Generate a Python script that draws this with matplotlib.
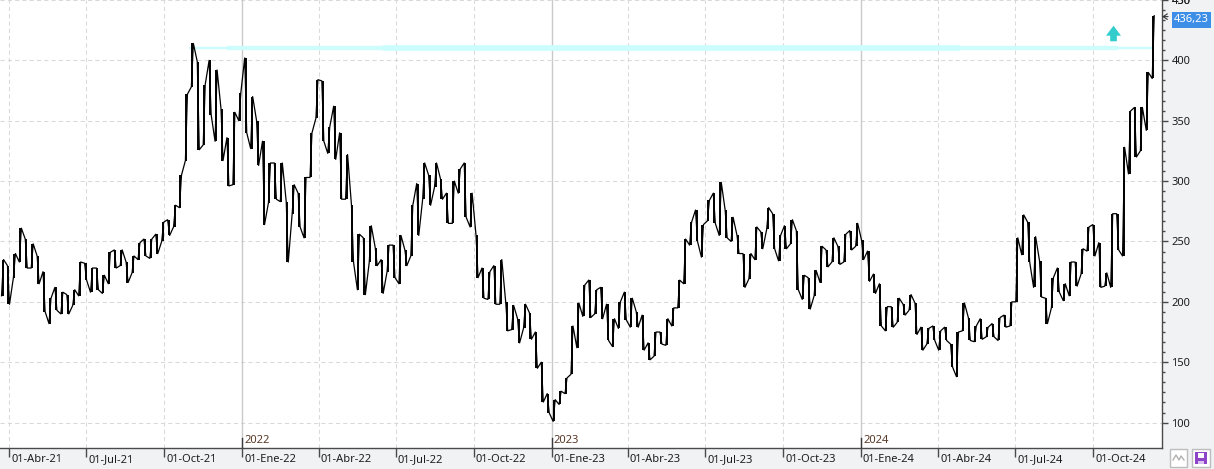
import numpy as np
import pandas as pd
import matplotlib
matplotlib.use("Agg")
import matplotlib.pyplot as plt
import matplotlib.dates as mdates
from matplotlib.path import Path
from matplotlib.patches import Rectangle
from matplotlib.lines import Line2D

plt.rcParams['font.family'] = ['Noto Sans', 'DejaVu Sans']

# weekly ranges (week starting monday)
week_start = pd.date_range('2021-03-22', '2024-12-09', freq='W-MON')

low_2021 = [205, 198, 220, 233, 228, 228, 215, 192, 182, 193, 190, 190, 197, 205,
            218, 208, 210, 207, 215, 228, 230, 216, 224, 235, 238, 236, 240, 250,
            255, 262, 278, 317, 378, 326, 330, 355, 333, 317, 296, 297, 350]
high_2021 = [235, 230, 240, 261, 252, 248, 238, 225, 203, 212, 208, 206, 210, 233,
             232, 228, 228, 222, 241, 243, 243, 233, 238, 249, 252, 252, 256, 266,
             268, 280, 305, 372, 414, 399, 380, 400, 392, 360, 336, 357, 373]
low_2022 = [340, 327, 313, 264, 282, 285, 283, 233, 273, 262, 253, 303, 352, 333,
            323, 318, 285, 285, 233, 210, 206, 233, 230, 207, 225, 220, 215, 230,
            238, 255, 285, 280, 295, 285, 265, 265, 290, 270, 262, 220, 203, 202,
            198, 198, 176, 177, 166, 178, 169, 145, 117, 108]
high_2022 = [402, 370, 350, 333, 315, 315, 315, 283, 297, 290, 303, 340, 384, 383,
             345, 362, 340, 322, 280, 256, 253, 263, 245, 235, 247, 247, 255, 243,
             280, 298, 315, 305, 315, 302, 290, 300, 310, 315, 290, 255, 228, 225,
             230, 235, 200, 197, 186, 198, 191, 175, 150, 124]
low_2023 = [101, 115, 124, 140, 162, 188, 187, 190, 186, 168, 163, 178, 185, 179,
            179, 160, 152, 155, 165, 164, 180, 195, 215, 247, 250, 237, 267, 265,
            255, 253, 250, 240, 212, 219, 235, 244, 260, 244, 234, 244, 248, 210,
            202, 194, 205, 216, 229, 233, 231, 233, 243, 246]
high_2023 = [119, 126, 137, 180, 199, 214, 218, 210, 212, 198, 186, 200, 208, 203,
             192, 189, 166, 175, 175, 186, 195, 218, 252, 266, 276, 264, 284, 290,
             299, 276, 270, 255, 240, 240, 262, 258, 278, 273, 255, 263, 268, 259,
             222, 220, 226, 246, 243, 253, 246, 256, 259, 265]
low_2024 = [235, 217, 207, 180, 176, 179, 183, 189, 193, 173, 160, 165, 168, 160,
            168, 146, 138, 176, 168, 167, 169, 171, 171, 168, 179, 180, 200, 239,
            233, 212, 204, 182, 195, 208, 201, 205, 213, 223, 242, 238, 212, 213,
            212, 243, 238, 306, 320, 325, 342, 385]
high_2024 = [251, 242, 223, 215, 196, 196, 203, 198, 206, 199, 179, 178, 180, 176,
             179, 165, 175, 199, 187, 180, 186, 179, 182, 187, 189, 200, 253, 272,
             266, 254, 234, 203, 220, 228, 215, 233, 233, 244, 262, 264, 249, 224,
             273, 273, 328, 358, 361, 361, 390, 437]

week_low = low_2021 + low_2022 + low_2023 + low_2024
week_high = high_2021 + high_2022 + high_2023 + high_2024
last_price = 436.23
last_label = '436,23'

# resistance line drawn on the chart
level = 410.5
level_thin = [('2021-10-30', '2021-12-14'), ('2024-10-30', '2024-12-11')]
level_mid = [('2021-12-14', '2022-06-16'), ('2024-04-27', '2024-10-30')]
level_thick = [('2022-06-16', '2024-04-27')]
arrow_date = '2024-10-24'
arrow_price = 422.3

quarter_dates = pd.to_datetime(['2021-04-01', '2021-07-01', '2021-10-01', '2022-01-01',
                                '2022-04-01', '2022-07-01', '2022-10-01', '2023-01-01',
                                '2023-04-01', '2023-07-01', '2023-10-01', '2024-01-01',
                                '2024-04-01', '2024-07-01', '2024-10-01'])
quarter_labels = ['01-Abr-21', '01-Jul-21', '01-Oct-21', '01-Ene-22', '01-Abr-22',
                  '01-Jul-22', '01-Oct-22', '01-Ene-23', '01-Abr-23', '01-Jul-23',
                  '01-Oct-23', '01-Ene-24', '01-Abr-24', '01-Jul-24', '01-Oct-24']
year_dates = pd.to_datetime(['2022-01-01', '2023-01-01', '2024-01-01'])
year_labels = ['2022', '2023', '2024']
y_ticks = [100, 150, 200, 250, 300, 350, 400, 450]


W, H = 1214, 469
fig = plt.figure(figsize=(W / 100, H / 100), dpi=100)
fig.patch.set_facecolor('#f1f2f4')
ax = fig.add_axes([0, 21.3 / H, 1161.7 / W, 447.7 / H])
ax.set_facecolor('white')

# weekly high-low bars, chained into one scribble so it reads like a dense bar chart
bar_x = mdates.date2num(week_start + pd.Timedelta(days=2))
ax.vlines(bar_x, week_low, week_high, color='black', lw=1.4, zorder=3)
px, py = [], []
prev = None
for x, lo, hi in zip(bar_x, week_low, week_high):
    if prev is None or abs(prev - lo) <= abs(prev - hi):
        px += [x - 1.2, x + 1.2]
        py += [lo, hi]
        prev = hi
    else:
        px += [x - 1.2, x + 1.2]
        py += [hi, lo]
        prev = lo
ax.plot(px, py, color='black', lw=0.9, zorder=3)

ax.set_xlim(mdates.date2num(pd.Timestamp('2021-03-21')), mdates.date2num(pd.Timestamp('2024-12-21')))
ax.set_ylim(79.2, 446.5)

q_num = mdates.date2num(quarter_dates)
y_num = mdates.date2num(year_dates)

# grid
dash = (0, (4, 3))
for v in y_ticks:
    ax.axhline(v, color='#d9d9d9', lw=0.75, ls=dash, zorder=0)
for d in q_num:
    if d in y_num:
        ax.axvline(d, color='#cacaca', lw=1.0, zorder=0)
    else:
        ax.axvline(d, color='#d9d9d9', lw=0.75, ls=dash, zorder=0)

# resistance line
for segs, lw in [(level_thin, 1.7), (level_mid, 3.1), (level_thick, 4.1)]:
    for a, b in segs:
        ax.plot(mdates.date2num(pd.to_datetime([a, b])), [level, level], color='#ccfcfc', lw=lw,
                solid_capstyle='butt', zorder=2)

verts = [(0, 7.8), (7.5, -2.2), (3.35, -2.2), (3.35, -7.8), (-3.35, -7.8),
         (-3.35, -2.2), (-7.5, -2.2), (0, 7.8)]
arrow_marker = Path(verts, [Path.MOVETO] + [Path.LINETO] * 6 + [Path.CLOSEPOLY])
ax.plot(mdates.date2num(pd.Timestamp(arrow_date)), arrow_price, marker=arrow_marker, ms=11.2,
        color='#33cccc', mew=0, zorder=4)

# spines
for s in ['top', 'left']:
    ax.spines[s].set_visible(False)
for s in ['right', 'bottom']:
    ax.spines[s].set_color('#4a4a4a')
    ax.spines[s].set_linewidth(1.0)

# y axis on the right
ax.yaxis.tick_right()
ax.set_yticks(y_ticks)
minor = [v for v in np.arange(100, 450, 50 / 6) if abs(v % 50) > 1e-6 and abs(v % 50 - 50) > 1e-6]
ax.set_yticks(minor, minor=True)
ax.tick_params(axis='y', which='major', length=4, width=1, color='#4a4a4a', pad=3,
               labelsize=8, labelcolor='#1e1e1e')
ax.tick_params(axis='y', which='minor', length=2.2, width=1, color='#4a4a4a')
ax.text(1.0086, 449, '450', transform=ax.get_yaxis_transform(), ha='left', va='center',
        fontsize=8, color='#1e1e1e', clip_on=False)

# x axis
ax.set_xticks(q_num)
ax.set_xticklabels([])
ax.tick_params(axis='x', length=6.5, width=1, color='#4a4a4a', direction='out')
xtr = ax.get_xaxis_transform()
for d, lab in zip(q_num, quarter_labels):
    ax.annotate(lab, xy=(d, 0), xycoords=xtr, xytext=(1.5, -8.6), textcoords='offset points',
                ha='left', va='center', fontsize=8, color='#1e1e1e', annotation_clip=False)
for d, lab in zip(y_num, year_labels):
    ax.plot([d, d], [0, 10 / 447.7], transform=xtr, color='#3a3a3a', lw=1, zorder=3)
    ax.annotate(lab, xy=(d, 0), xycoords=xtr, xytext=(1.5, 5.4), textcoords='offset points',
                ha='left', va='center', fontsize=8, color='#5a3a28')

# last price tag
ytr = ax.get_yaxis_transform()
ax.annotate('', xy=(1.0004, last_price), xycoords=ytr, xytext=(1.0055, last_price),
            textcoords=ytr, annotation_clip=False,
            arrowprops=dict(arrowstyle='->,head_length=0.3,head_width=0.2', lw=0.8,
                            color='#333333', shrinkA=0, shrinkB=0))
ax.text(1.0106, 433.6, last_label, transform=ytr, ha='left', va='center', fontsize=8,
        color='white', clip_on=False,
        bbox=dict(boxstyle='square,pad=0.2', fc='#3d8ee6', ec='none'))

# small toolbar icons at the bottom right
fig.add_artist(Rectangle((1170 / W, 2 / H), 17 / W, 18 / H, transform=fig.transFigure,
                         fc='white', ec='#bcbcbc', lw=1))
fig.add_artist(Line2D(np.array([1173, 1176, 1179, 1181, 1184]) / W,
                      np.array([9, 14, 9, 13, 9]) / H, transform=fig.transFigure,
                      color='#b0b0b0', lw=1))
fig.add_artist(Rectangle((1192 / W, 2 / H), 18 / W, 18 / H, transform=fig.transFigure,
                         fc='white', ec='#bcbcbc', lw=1))
fig.add_artist(Rectangle((1195 / W, 5 / H), 12 / W, 12 / H, transform=fig.transFigure,
                         fc='#8e44c8', ec='none'))
fig.add_artist(Rectangle((1198 / W, 11 / H), 6 / W, 5 / H, transform=fig.transFigure,
                         fc='white', ec='none'))
fig.add_artist(Rectangle((1198 / W, 5 / H), 6 / W, 3 / H, transform=fig.transFigure,
                         fc='#d9c2ef', ec='none'))

fig.savefig('out.png', dpi=100, facecolor=fig.get_facecolor())
